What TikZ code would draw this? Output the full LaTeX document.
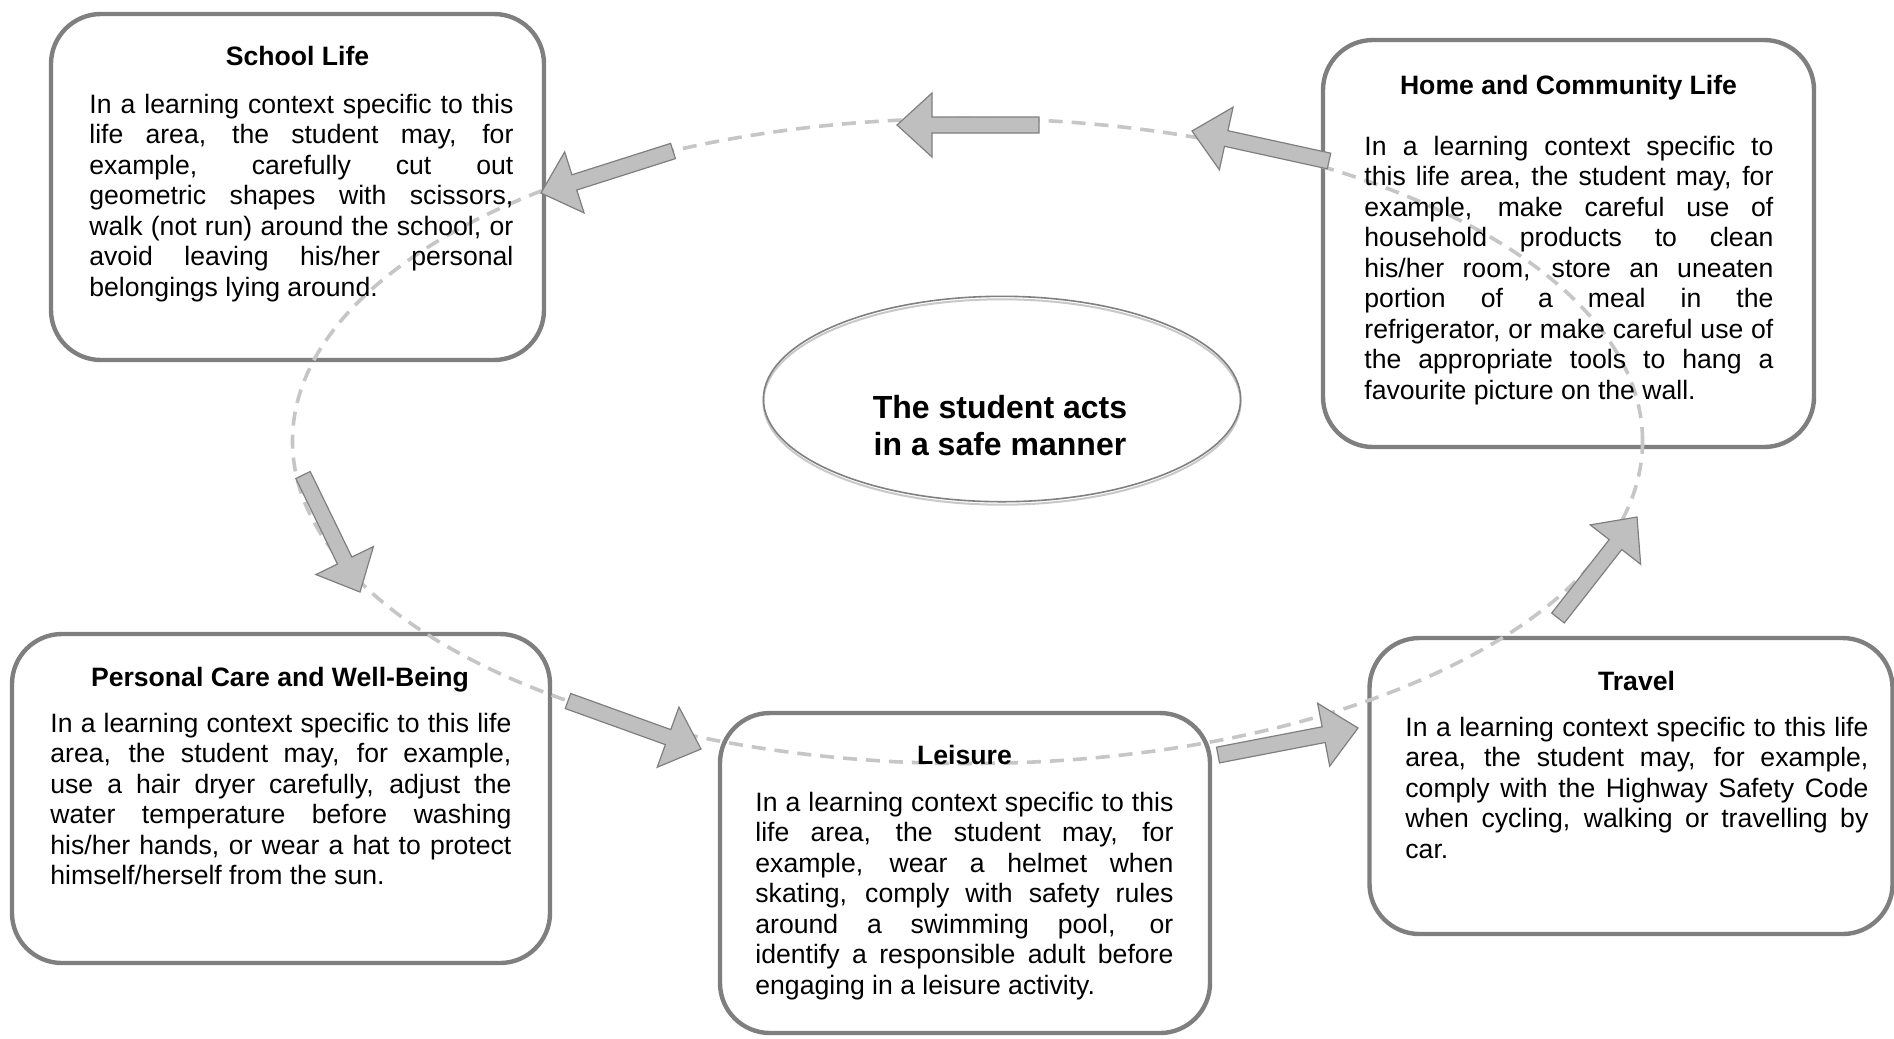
\documentclass[tikz,border=0pt]{standalone}
\usepackage{fontspec}
\setmainfont{Liberation Sans}
\usetikzlibrary{calc,shapes.geometric}

\definecolor{boxline}{HTML}{7F7F7F}
\definecolor{arrowfill}{HTML}{BFBFBF}
\definecolor{arrowline}{HTML}{7F7F7F}
\definecolor{cycleline}{HTML}{C6C6C6}
\definecolor{hubline}{HTML}{808080}
\definecolor{hubshade}{HTML}{C8C8C8}

\newcommand\bodyfont{\fontsize{13.3bp}{15.25bp}\selectfont}
\newcommand\hubfont{\fontsize{16bp}{18.7bp}\selectfont\bfseries}
% one justified line of a text block
\newcommand\jrow[1]{\makebox[\linewidth][s]{#1}\par}

% block arrow from tail #1 to tip #2
\newcommand\blockarrow[2]{%
  \coordinate (bahead) at ($(#2)!17.5bp!(#1)$);
  \filldraw[blockarrowstyle]
    ($(#1)!4bp!90:(#2)$) -- ($(bahead)!4bp!90:(#2)$) -- ($(bahead)!16bp!90:(#2)$)
    -- (#2) -- ($(bahead)!16bp!-90:(#2)$) -- ($(bahead)!4bp!-90:(#2)$)
    -- ($(#1)!4bp!-90:(#2)$) -- cycle;
}

\tikzset{
  lifebox/.style={rectangle, draw=boxline, line width=2.2bp, fill=white,
    rounded corners=25bp, inner sep=0pt},
  titletext/.style={font=\bodyfont\bfseries, inner sep=0pt, anchor=base},
  bodytext/.style={font=\bodyfont, inner sep=0pt, anchor=base west},
  blockarrowstyle/.style={fill=arrowfill, draw=arrowline, line width=0.6bp, line join=miter},
  cyclepath/.style={draw=cycleline, line width=1.8bp, dash pattern=on 7bp off 4.5bp},
  hub/.style={ellipse, draw=hubline, line width=0.8bp, inner sep=0pt,
    minimum width=238.6bp, minimum height=102.7bp},
  hubshadow/.style={hub, draw=hubshade, line width=1bp},
}

\begin{document}
\begin{tikzpicture}[x=0.5bp, y=-0.5bp]
\useasboundingbox (0,0) rectangle (1894,1038);

% the five life-area boxes
\node[lifebox, minimum width=246.5bp, minimum height=173bp] (school) at (297.5,187) {};
\node[lifebox, minimum width=245.5bp, minimum height=203.5bp] (home) at (1568.5,243.5) {};
\node[lifebox, minimum width=269bp, minimum height=164.5bp] (care) at (281,798.5) {};
\node[lifebox, minimum width=245bp, minimum height=160bp] (leisure) at (965,873) {};
\node[lifebox, minimum width=261.5bp, minimum height=148bp] (travel) at (1631,786) {};

% dashed cycle running through all areas
\draw[cyclepath] (967.5,441) ellipse [x radius=337.5bp, y radius=161.25bp];

% central statement
\node[hubshadow] (hubshade) at (1002,402) {};
\node[hub] (hub) at (1002,399) {};
\node[inner sep=0pt, anchor=base, font=\hubfont] (hubtext) at (1000,418)
  {\parbox[t]{240bp}{\centering The student acts\\in a safe manner}};

% arrow end points along the cycle
\coordinate (a1t) at (1329,161);  \coordinate (a1h) at (1192,131);
\coordinate (a2t) at (1039,125);  \coordinate (a2h) at (897,125);
\coordinate (a3t) at (673,151);   \coordinate (a3h) at (541,193);
\coordinate (a4t) at (303,475);   \coordinate (a4h) at (360,592);
\coordinate (a5t) at (568,701);   \coordinate (a5h) at (701,749);
\coordinate (a6t) at (1218,755);  \coordinate (a6h) at (1358,728);
\coordinate (a7t) at (1558,618);  \coordinate (a7h) at (1637,517);

\blockarrow{a1t}{a1h}
\blockarrow{a2t}{a2h}
\blockarrow{a3t}{a3h}
\blockarrow{a4t}{a4h}
\blockarrow{a5t}{a5h}
\blockarrow{a6t}{a6h}
\blockarrow{a7t}{a7h}

% School Life
\node[titletext] (schooltitle) at (297.5,65) {School Life};
\node[bodytext] (schoolbody) at (89,113) {\parbox[t]{212bp}{%
\jrow{In a learning context specific to this}
\jrow{life area, the student may, for}
\jrow{example, carefully cut out}
\jrow{geometric shapes with scissors,}
\jrow{walk (not run) around the school, or}
\jrow{avoid leaving his/her personal}
belongings lying around.}};

% Home and Community Life
\node[titletext] (hometitle) at (1568.5,94) {Home and Community Life};
\node[bodytext] (homebody) at (1364,155) {\parbox[t]{204.5bp}{%
\jrow{In a learning context specific to}
\jrow{this life area, the student may, for}
\jrow{example, make careful use of}
\jrow{household products to clean}
\jrow{his/her room, store an uneaten}
\jrow{portion of a meal in the}
\jrow{refrigerator, or make careful use of}
\jrow{the appropriate tools to hang a}
favourite picture on the wall.}};

% Personal Care and Well-Being
\node[titletext] (caretitle) at (280,686) {Personal Care and Well-Being};
\node[bodytext] (carebody) at (50,732) {\parbox[t]{230.5bp}{%
\jrow{In a learning context specific to this life}
\jrow{area, the student may, for example,}
\jrow{use a hair dryer carefully, adjust the}
\jrow{water temperature before washing}
\jrow{his/her hands, or wear a hat to protect}
himself/herself from the sun.}};

% Leisure
\node[titletext] (leisuretitle) at (964.5,764.5) {Leisure};
\node[bodytext] (leisurebody) at (755,811) {\parbox[t]{209bp}{%
\jrow{In a learning context specific to this}
\jrow{life area, the student may, for}
\jrow{example, wear a helmet when}
\jrow{skating, comply with safety rules}
\jrow{around a swimming pool, or}
\jrow{identify a responsible adult before}
engaging in a leisure activity.}};

% Travel
\node[titletext] (traveltitle) at (1636.5,690) {Travel};
\node[bodytext] (travelbody) at (1405,736) {\parbox[t]{231.5bp}{%
\jrow{In a learning context specific to this life}
\jrow{area, the student may, for example,}
\jrow{comply with the Highway Safety Code}
\jrow{when cycling, walking or travelling by}
car.}};
\end{tikzpicture}
\end{document}
